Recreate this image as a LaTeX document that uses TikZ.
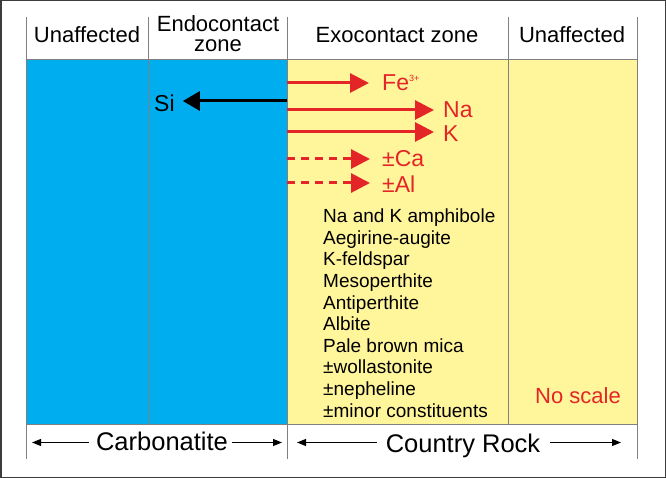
\documentclass[tikz,border=0pt]{standalone}
\usepackage{fontspec}
\setmainfont{Liberation Sans}
\usetikzlibrary{arrows.meta}
\definecolor{carbblue}{HTML}{00AEEF}
\definecolor{rockyellow}{HTML}{FFF59B}
\definecolor{elemred}{HTML}{E42527}
\definecolor{framegray}{HTML}{3C3C3C}
\tikzstyle{zone} = [inner sep=0, font=\fontsize{22}{20.5}\selectfont, align=center]
\tikzstyle{elem} = [inner sep=0, font=\fontsize{23}{23}\selectfont, text=elemred]
\tikzstyle{mineral} = [inner sep=0, font=\fontsize{19}{21.6}\selectfont, align=left]
\tikzstyle{rock} = [inner sep=0, font=\fontsize{25.5}{26}\selectfont]
\tikzstyle{gain} = [line width=3pt, draw=elemred, -{Triangle[length=19pt,width=19pt]}]
\tikzstyle{gainmaybe} = [gain, dash pattern=on 8pt off 6pt]
\tikzstyle{loss} = [line width=3pt, draw=black, -{Triangle[length=17pt,width=19pt]}]
\tikzstyle{span} = [line width=1pt, -{Triangle[length=9pt,width=7pt]}]
\tikzstyle{divider} = [draw=gray, line width=0.8pt]

\begin{document}
\begin{tikzpicture}[x=1pt, y=-1pt]
\useasboundingbox (0,0) rectangle (666,478);
\draw [framegray, line width=1.5pt] (0.75,0.75) rectangle (665.25,477.25);

% zones
\fill [carbblue] (26,59) rectangle (287,424);
\fill [rockyellow] (287,59) rectangle (637,424);
\draw [divider] (26,59) rectangle (637,424);
\draw [divider] (26,17) -- (26,59);
\draw [divider] (148,17) -- (148,424);
\draw [divider] (287,17) -- (287,459);
\draw [divider] (508,17) -- (508,424);
\draw [divider] (637,17) -- (637,59);
\draw [divider] (26,424) -- (26,459);
\draw [divider] (637,424) -- (637,459);

\node (uaL) [zone, anchor=base] at (87,43) {Unaffected};
\node (endo) [zone, anchor=base] at (218,52) {Endocontact\\zone};
\node (exo) [zone, anchor=base] at (397,43) {Exocontact zone};
\node (uaR) [zone, anchor=base] at (572,43) {Unaffected};

% element movement
\coordinate (si0) at (287,101);
\node (si) [elem, text=black, anchor=base west] at (154,112) {Si};
\draw [loss, shorten >=8pt] (si0) -- (si0 -| si.east);

\coordinate (fe0) at (287,83);
\coordinate (na0) at (287,110);
\coordinate (k0) at (287,132);
\coordinate (ca0) at (287,159);
\coordinate (al0) at (287,183);
\node (fe) [elem, anchor=base west] at (382,91) {Fe{\fontsize{9}{9}\selectfont\raisebox{9pt}{3+}}};
\node (na) [elem, anchor=base west] at (443,118) {Na};
\node (k) [elem, anchor=base west] at (443,141.5) {K};
\node (ca) [elem, anchor=base west] at (382,167) {±Ca};
\node (al) [elem, anchor=base west] at (382,192.5) {±Al};
\draw [gain, shorten >=13pt] (fe0) -- (fe0 -| fe.west);
\draw [gain, shorten >=9pt] (na0) -- (na0 -| na.west);
\draw [gain, shorten >=9pt] (k0) -- (k0 -| k.west);
\draw [gainmaybe, shorten >=12pt] (ca0) -- (ca0 -| ca.west);
\draw [gainmaybe, shorten >=12pt] (al0) -- (al0 -| al.west);

\node (minerals) [mineral, anchor=base west] at (323,417) {Na and K amphibole\\Aegirine-augite\\K-feldspar\\Mesoperthite\\Antiperthite\\Albite\\Pale brown mica\\±wollastonite\\±nepheline\\±minor constituents};
\node (noscale) [zone, text=elemred, anchor=base] at (578,403) {No scale};

% rock spans
\node (carb) [rock, anchor=base] at (162,450) {Carbonatite};
\node (crock) [rock, anchor=base] at (463,452) {Country Rock};
\coordinate (carbL) at (32,442.5);
\coordinate (carbR) at (282,442.5);
\coordinate (crockL) at (297,442.5);
\coordinate (crockR) at (621,442.5);
\draw [span, shorten <=7pt] (carb.west |- carbL) -- (carbL);
\draw [span, shorten <=4pt] (carb.east |- carbR) -- (carbR);
\draw [span, shorten <=9pt] (crock.west |- crockL) -- (crockL);
\draw [span, shorten <=10pt] (crock.east |- crockR) -- (crockR);
\end{tikzpicture}
\end{document}
